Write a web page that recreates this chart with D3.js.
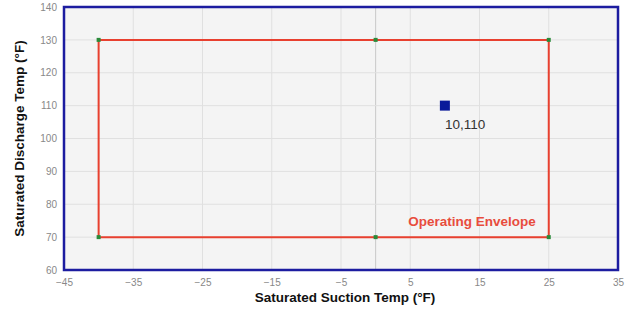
<!DOCTYPE html>
<html><head><meta charset="utf-8">
<script src="https://cdn.jsdelivr.net/npm/d3@7"></script>
<style>body{margin:0;background:#fff;font-family:Arial,"Liberation Sans",sans-serif}</style>
</head><body><svg id="c" width="633" height="309"></svg>
<script>
const xTicks = [-45,-35,-25,-15,-5,5,15,25,35];
const yTicks = [60,70,80,90,100,110,120,130,140];
const envelopeX = [-40,-40,0,25,25,0,-40];
const envelopeY = [70,130,130,130,70,70,70];
const pointX = [10];
const pointY = [110];
const pointLabel = ["10,110"];

const svg = d3.select("#c");
const m = {l:64, r:618, t:7, b:270};
const x = d3.scaleLinear().domain([-45,35]).range([m.l,m.r]);
const y = d3.scaleLinear().domain([60,140]).range([m.b,m.t]);

svg.append("rect").attr("x",m.l).attr("y",m.t).attr("width",m.r-m.l).attr("height",m.b-m.t).attr("fill","#f4f4f4");

// grid
const gx = xTicks.slice(1,-1).concat([0]);
svg.append("g").selectAll("line").data(gx).join("line")
  .attr("x1",d=>x(d)).attr("x2",d=>x(d)).attr("y1",m.t).attr("y2",m.b)
  .attr("stroke",d=>d===0?"#c8c8c8":"#e0e0e0").attr("stroke-width",1);
svg.append("g").selectAll("line").data(yTicks.slice(1,-1)).join("line")
  .attr("y1",d=>y(d)).attr("y2",d=>y(d)).attr("x1",m.l).attr("x2",m.r)
  .attr("stroke","#e0e0e0").attr("stroke-width",1);

// axes
const xa = svg.append("g").attr("transform",`translate(0,${m.b})`)
  .call(d3.axisBottom(x).tickValues(xTicks).tickSize(0).tickPadding(9));
const ya = svg.append("g").attr("transform",`translate(${m.l},0)`)
  .call(d3.axisLeft(y).tickValues(yTicks).tickSize(0).tickPadding(7));
[xa,ya].forEach(a=>{a.select(".domain").remove();a.selectAll("text").attr("fill","#888").attr("font-size","10px").attr("font-family","Arial,'Liberation Sans',sans-serif");});

// envelope
const pts = envelopeX.map((v,i)=>[v,envelopeY[i]]);
svg.append("path").datum(pts).attr("d",d3.line().x(d=>x(d[0])).y(d=>y(d[1])))
  .attr("fill","none").attr("stroke","#e8402f").attr("stroke-width",2);
svg.append("g").selectAll("rect").data(pts.slice(0,-1)).join("rect")
  .attr("x",d=>x(d[0])-2).attr("y",d=>y(d[1])-2).attr("width",4).attr("height",4).attr("fill","#2a8a3a");

// border
svg.append("rect").attr("x",m.l).attr("y",m.t).attr("width",m.r-m.l).attr("height",m.b-m.t)
  .attr("fill","none").attr("stroke","#1c1ca0").attr("stroke-width",2.5);

// point
svg.append("g").selectAll("rect").data(pointX).join("rect")
  .attr("x",(d)=>x(d)-5).attr("y",(d,i)=>y(pointY[i])-5).attr("width",10).attr("height",10).attr("fill","#0a1a9a");
svg.append("g").selectAll("text").data(pointX).join("text")
  .attr("x",d=>x(d)+0).attr("y",(d,i)=>y(pointY[i])+23).text((d,i)=>pointLabel[i])
  .attr("font-size","13.5px").attr("fill","#333");

svg.append("text").attr("x",x(25)-13).attr("y",y(70)-11).attr("text-anchor","end")
  .attr("font-size","13.5px").attr("font-weight","bold").attr("fill","#e84c3d").text("Operating Envelope");

svg.append("text").attr("x",345).attr("y",302).attr("text-anchor","middle")
  .attr("font-size","13.5px").attr("font-weight","bold").attr("fill","#111").text("Saturated Suction Temp (°F)");
svg.append("text").attr("transform",`translate(24,${(m.t+m.b)/2}) rotate(-90)`).attr("text-anchor","middle")
  .attr("font-size","13.5px").attr("font-weight","bold").attr("fill","#111").text("Saturated Discharge Temp (°F)");
</script></body></html>
